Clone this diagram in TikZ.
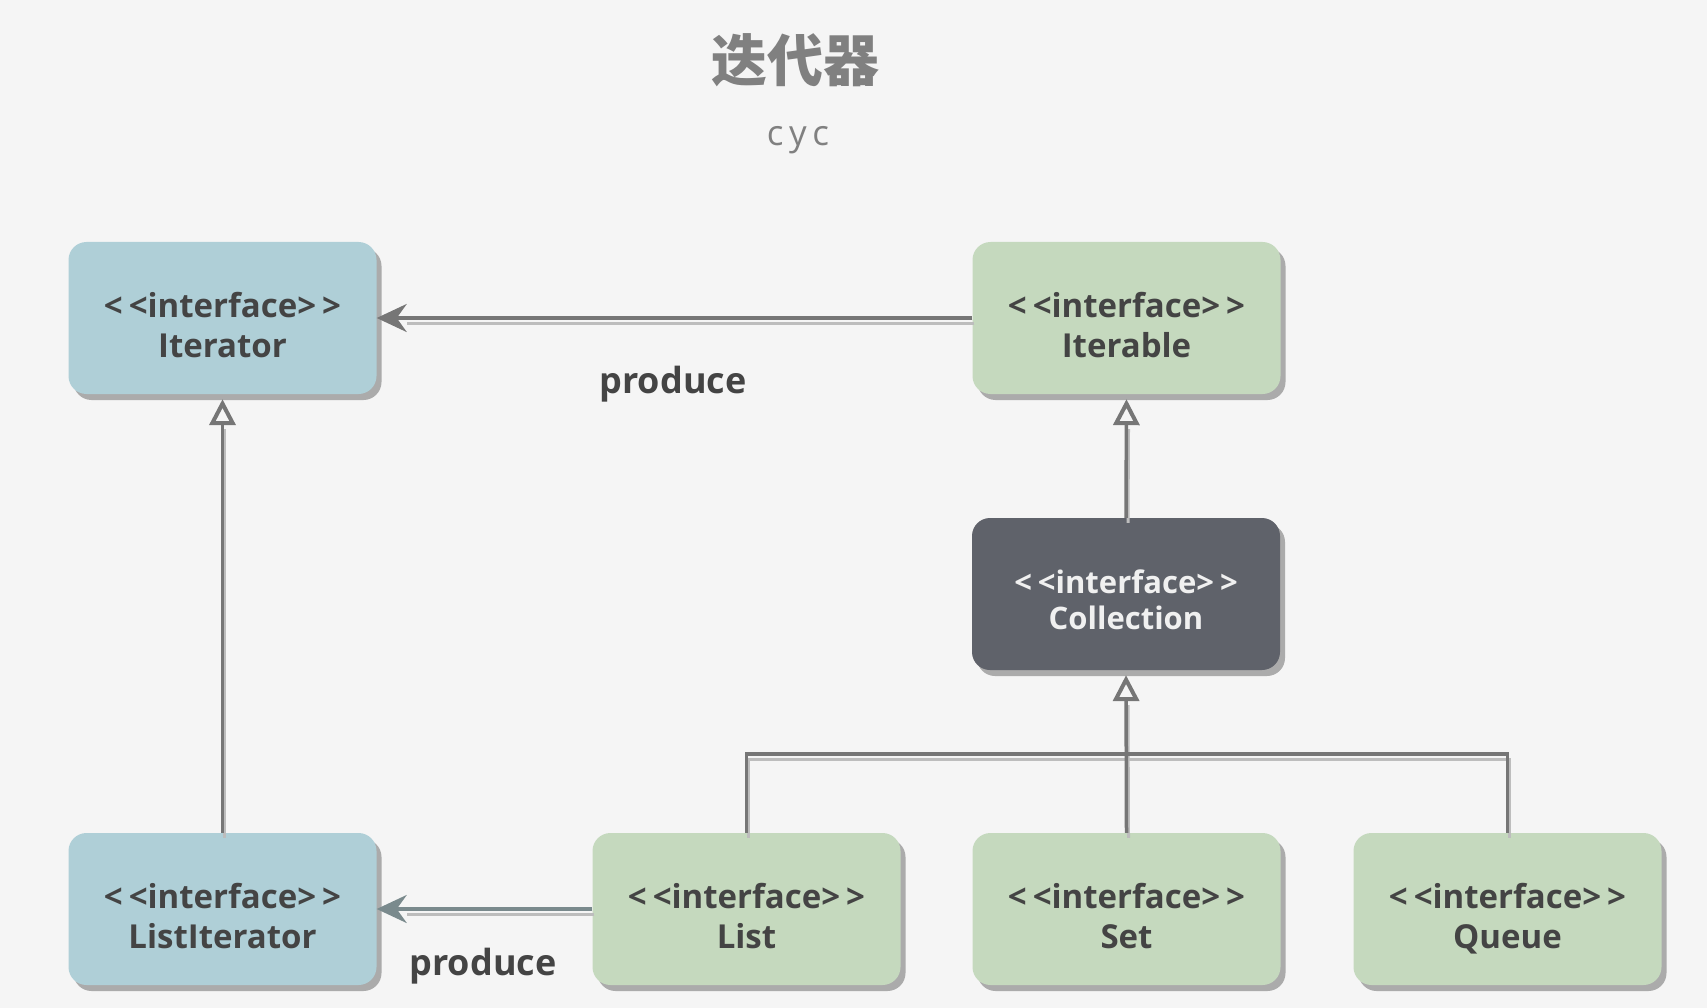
\documentclass[tikz,border=0pt]{standalone}
\usepackage{fontspec}
\setmainfont{Open Sans}
\newfontfamily\cjk{Noto Sans CJK SC}
\usetikzlibrary{arrows.meta,shadows}
\definecolor{bg}{HTML}{F5F5F5}
\definecolor{bluefill}{HTML}{AFCFD7}
\definecolor{greenfill}{HTML}{C5D9BE}
\definecolor{darkfill}{HTML}{5F626A}
\definecolor{txt}{HTML}{444444}
\definecolor{linec}{HTML}{767676}
\definecolor{shadowc}{HTML}{BDBDBD}
\definecolor{boxshadow}{HTML}{ABABAB}
\definecolor{titlec}{HTML}{808080}
\definecolor{bluearrow}{HTML}{7A8A8D}
\newcommand{\stereo}[1]{\rule{0pt}{#1}<\kern6pt<interface>\kern6pt>}
\newcommand{\nm}[1]{#1\rule[-10pt]{0pt}{1pt}}
\tikzset{
  box/.style={rounded corners=18pt, minimum width=308pt, minimum height=152pt,
    inner sep=0pt, align=center, text=txt,
    font=\bfseries\fontsize{33}{40}\selectfont,
    general shadow={fill=boxshadow, shadow xshift=5pt, shadow yshift=-6pt}},
  bluebox/.style={box, fill=bluefill},
  greenbox/.style={box, fill=greenfill},
  darkbox/.style={box, fill=darkfill, text=white!94!black, font=\bfseries\fontsize{31}{36}\selectfont},
  conn/.style={draw=linec, line width=3.5pt},
  connshadow/.style={draw=shadowc, line width=3pt, transform canvas={xshift=2pt, yshift=-5pt}},
  prod/.style={conn, -{Stealth[length=30pt, width=28pt, inset=10pt]}},
  inh/.style={conn, shorten >=5pt, -{Triangle[open, length=26pt, width=26pt, line width=4pt]}},
  lbl/.style={text=txt, font=\bfseries\fontsize{36}{40}\selectfont, inner sep=0pt}
}
\begin{document}
\begin{tikzpicture}[x=1pt, y=-1pt]
\fill[bg] (0,0) rectangle (1707,1008);
\useasboundingbox (0,0) rectangle (1707,1008);

\node[text=titlec, font=\cjk\bfseries\fontsize{56}{60}\selectfont, inner sep=0pt] (title) at (795,60) {迭代器};
\node[text=titlec, font=\addfontfeatures{LetterSpace=16}\fontsize{35}{40}\selectfont, inner sep=0pt] (sub) at (798,140) {cyc};

\node[bluebox] (Iterator) at (222.5,318) {\stereo{48pt}\\\nm{Iterator}};
\node[greenbox] (Iterable) at (1126.5,318) {\stereo{48pt}\\\nm{Iterable}};
\node[darkbox] (Collection) at (1126,594) {\stereo{45pt}\\\nm{Collection}};
\node[bluebox] (ListIterator) at (222.5,909) {\stereo{48pt}\\\nm{ListIterator}};
\node[greenbox] (List) at (746.5,909) {\stereo{48pt}\\\nm{List}};
\node[greenbox] (Set) at (1126.5,909) {\stereo{48pt}\\\nm{Set}};
\node[greenbox] (Queue) at (1507.5,909) {\stereo{48pt}\\\nm{Queue}};

\coordinate (bar) at (1127,754);

% shadows of connectors
\draw[connshadow] (Iterable.west) -- ([xshift=28pt]Iterator.east);
\draw[connshadow] (List.west) -- ([xshift=28pt]ListIterator.east);
\draw[connshadow] (ListIterator.north) -- ([yshift=-30pt]Iterator.south);
\draw[connshadow] (Collection.north) -- ([yshift=-30pt]Iterable.south);
\draw[connshadow] (List.north) -- (List.north |- bar) -- (Queue.north |- bar) -- (Queue.north);
\draw[connshadow] (Set.north) -- ([yshift=-30pt]Collection.south);

% connectors
\draw[prod] (Iterable.west) -- (Iterator.east);
\draw[prod, draw=bluearrow] (List.west) -- (ListIterator.east);
\draw[inh] (ListIterator.north) -- (Iterator.south);
\draw[inh] (Collection.north) -- (Iterable.south);
\draw[conn] (List.north) -- (List.north |- bar) -- (Queue.north |- bar) -- (Queue.north);
\draw[inh] (Set.north) -- (Collection.south);

\node[lbl] (p1) at (673,384) {produce};
\node[lbl] (p2) at (483,966) {produce};
\end{tikzpicture}
\end{document}
